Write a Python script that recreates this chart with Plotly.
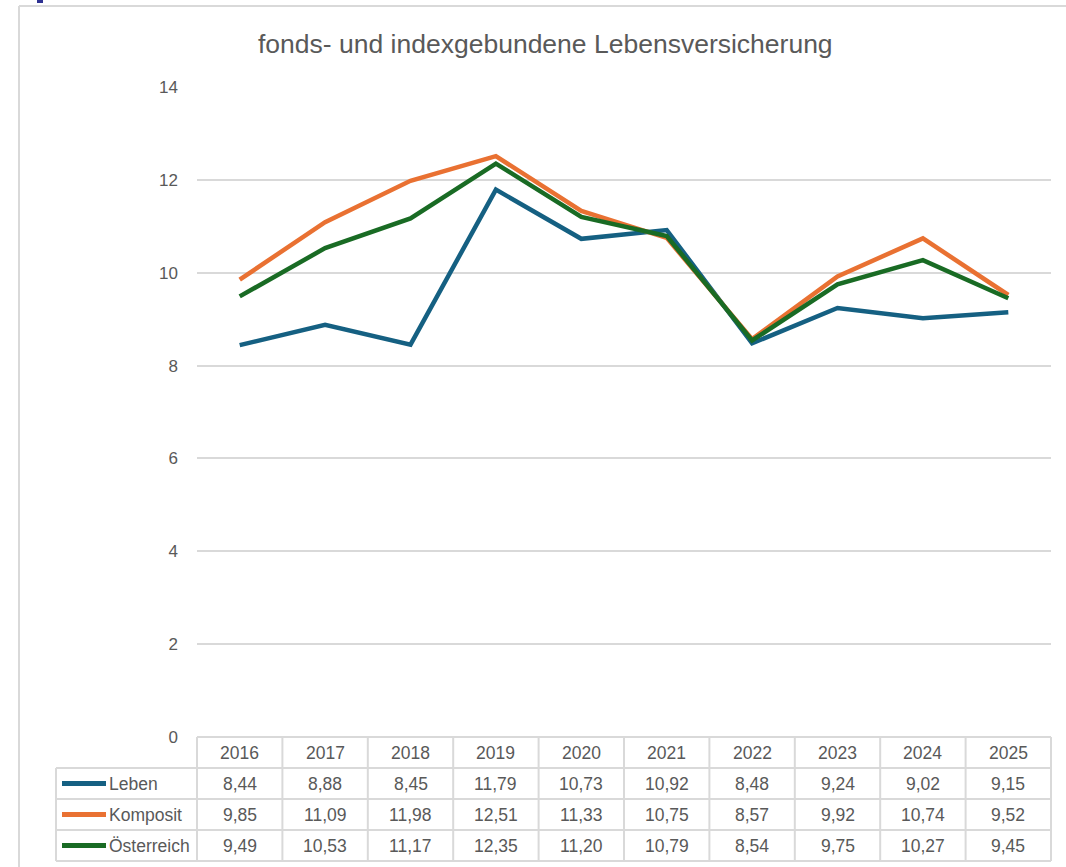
import plotly.graph_objects as go

years = ["2016", "2017", "2018", "2019", "2020", "2021", "2022", "2023", "2024", "2025"]
leben = [8.44, 8.88, 8.45, 11.79, 10.73, 10.92, 8.48, 9.24, 9.02, 9.15]
komposit = [9.85, 11.09, 11.98, 12.51, 11.33, 10.75, 8.57, 9.92, 10.74, 9.52]
oesterreich = [9.49, 10.53, 11.17, 12.35, 11.20, 10.79, 8.54, 9.75, 10.27, 9.45]
series_names = ["Leben", "Komposit", "Österreich"]
series_values = [leben, komposit, oesterreich]
series_colors = ["#156082", "#E97132", "#196B24"]
title_text = "fonds- und indexgebundene Lebensversicherung"

W, H = 1066, 867
L, R, T, B = 197, 1051, 87, 737
FONT = "Liberation Sans"
TXT = "#595959"
GRID = "#d9d9d9"
TS = 17.5

def px(xp):
    return (xp - L) / (R - L)

def py(yp):
    return (B - yp) / (B - T)

fig = go.Figure()
xi = list(range(len(years)))
for name, vals, col in zip(series_names, series_values, series_colors):
    fig.add_trace(go.Scatter(x=xi, y=vals, mode="lines", name=name,
                             line=dict(color=col, width=4.5), hoverinfo="skip"))

shapes = []
annotations = []

row_h = 31
n = len(years)
top = B
rows_y = [top + row_h * k for k in range(5)]
leg_left = 56

shapes.append(dict(type="line", xref="paper", yref="paper", x0=0, x1=1,
                   y0=py(rows_y[0]), y1=py(rows_y[0]), line=dict(color=GRID, width=2)))
for yv in rows_y[1:]:
    shapes.append(dict(type="line", xref="paper", yref="paper", x0=px(leg_left), x1=1,
                       y0=py(yv), y1=py(yv), line=dict(color=GRID, width=2)))
for k in range(n + 1):
    xp = k / n
    shapes.append(dict(type="line", xref="paper", yref="paper", x0=xp, x1=xp,
                       y0=py(rows_y[0]), y1=py(rows_y[-1]), line=dict(color=GRID, width=2)))
shapes.append(dict(type="line", xref="paper", yref="paper", x0=px(leg_left), x1=px(leg_left),
                   y0=py(rows_y[1]), y1=py(rows_y[-1]), line=dict(color=GRID, width=2)))

for i, yr in enumerate(years):
    annotations.append(dict(x=i, xref="x", y=py(rows_y[0] + row_h / 2), yref="paper",
                            text=yr, showarrow=False, xanchor="center", yanchor="middle",
                            font=dict(family=FONT, size=TS, color=TXT)))
for r, (name, vals, col) in enumerate(zip(series_names, series_values, series_colors)):
    yc = rows_y[r + 1] + row_h / 2
    shapes.append(dict(type="line", xref="paper", yref="paper", x0=px(62), x1=px(106),
                       y0=py(yc), y1=py(yc), line=dict(color=col, width=5)))
    annotations.append(dict(x=px(107), xref="paper", y=py(yc), yref="paper", text=name,
                            showarrow=False, xanchor="left", yanchor="middle",
                            font=dict(family=FONT, size=TS, color=TXT)))
    for i, v in enumerate(vals):
        annotations.append(dict(x=i, xref="x", y=py(yc), yref="paper",
                                text=f"{v:.2f}".replace(".", ","), showarrow=False,
                                xanchor="center", yanchor="middle",
                                font=dict(family=FONT, size=TS, color=TXT)))

annotations.append(dict(x=px(545), xref="paper", y=py(44), yref="paper", text=title_text,
                        showarrow=False, xanchor="center", yanchor="middle",
                        font=dict(family=FONT, size=26.5, color=TXT)))

shapes.append(dict(type="line", xref="paper", yref="paper", x0=px(19), x1=px(W + 5),
                   y0=py(6), y1=py(6), line=dict(color=GRID, width=2)))
shapes.append(dict(type="line", xref="paper", yref="paper", x0=px(19), x1=px(19),
                   y0=py(6), y1=py(H + 5), line=dict(color=GRID, width=2)))
shapes.append(dict(type="rect", xref="paper", yref="paper", x0=px(37), x1=px(43),
                   y0=py(0), y1=py(3), line=dict(width=0), fillcolor="#2E3192"))

fig.update_layout(
    width=W, height=H,
    margin=dict(l=L, r=W - R, t=T, b=H - B, pad=0),
    paper_bgcolor="white", plot_bgcolor="white",
    showlegend=False,
    shapes=shapes, annotations=annotations,
    xaxis=dict(range=[-0.5, n - 0.5], showgrid=False, zeroline=False,
               showticklabels=False, showline=False, fixedrange=True),
    yaxis=dict(range=[0, 14], dtick=2, showgrid=True, gridcolor=GRID, gridwidth=1.5,
               zeroline=False, showline=False, ticks="", ticklabelstandoff=18,
               tickfont=dict(family=FONT, size=17, color=TXT), fixedrange=True),
)

fig.write_html("out.html", post_script="document.body.style.margin='0';",
               config={"displayModeBar": False})
